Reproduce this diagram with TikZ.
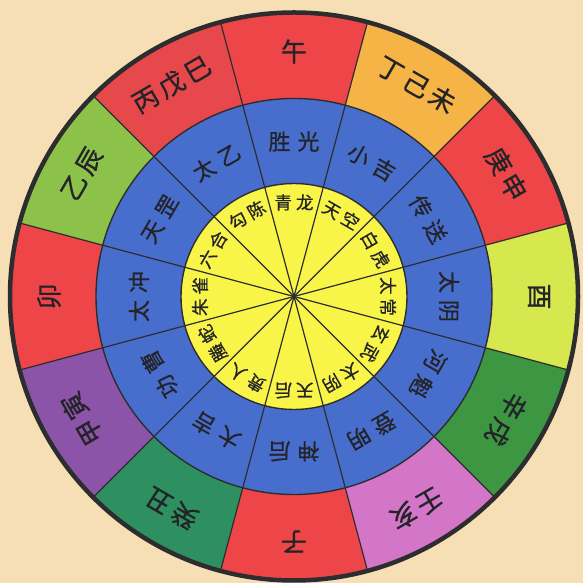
\documentclass[tikz,border=0pt]{standalone}
\usepackage{fontspec}
\newfontfamily\cjk[FakeBold=0.8]{Noto Sans CJK SC}
\usetikzlibrary{calc}
\definecolor{bgc}{RGB}{246,223,180}
\definecolor{cR}{RGB}{238,70,72}
\definecolor{cR2}{RGB}{230,72,76}
\definecolor{cO}{RGB}{247,180,70}
\definecolor{cYG}{RGB}{214,232,78}
\definecolor{cG}{RGB}{60,150,66}
\definecolor{cP}{RGB}{212,118,200}
\definecolor{cT}{RGB}{46,144,96}
\definecolor{cV}{RGB}{140,84,168}
\definecolor{cLG}{RGB}{140,194,74}
\definecolor{cB}{RGB}{72,110,205}
\definecolor{cY}{RGB}{248,245,72}
\definecolor{lnc}{RGB}{45,45,48}
\definecolor{txc}{RGB}{35,35,40}
\newcommand\ogap{\hspace{4pt}}
\newcommand\bgap{\hspace{7pt}}
\newcommand\ygap{\hspace{4pt}}
\begin{document}
\begin{tikzpicture}[x=1pt,y=1pt,
  divline/.style={draw=lnc,line width=1.2pt},
  ringline/.style={draw=lnc,line width=1.4pt},
  rimline/.style={draw=lnc,line width=4.5pt},
  otext/.style={font=\cjk\fontsize{26}{26}\selectfont,text=txc,inner sep=0pt},
  btext/.style={font=\cjk\fontsize{22}{22}\selectfont,text=txc,inner sep=0pt},
  ytext/.style={font=\cjk\fontsize{17.5}{18}\selectfont,text=txc,inner sep=0pt}]
\fill[bgc] (0,0) rectangle (583,583);
\useasboundingbox (0,0) rectangle (583,583);
\coordinate (O) at (294,286.5);
% outer coloured sectors
\foreach \a/\c in {90/cR,60/cO,30/cR,0/cYG,-30/cG,-60/cP,-90/cR,-120/cT,-150/cV,180/cR,150/cLG,120/cR2}{
  \fill[\c] (O) -- ++({\a-15}:284) arc[start angle={\a-15},end angle={\a+15},radius=284] -- cycle;
}
% blue ring and yellow disc
\fill[cB] (O) circle[radius=198];
\fill[cY] (O) circle[radius=113];
% radial dividers
\foreach \k in {0,...,11}{
  \draw[divline] (O) -- ++({15+30*\k}:284);
}
\draw[ringline] (O) circle[radius=198];
\draw[ringline] (O) circle[radius=113];
\draw[rimline] (O) circle[radius=284];
% outer labels
\foreach \a/\t [count=\i] in {90/午,60/丁\ogap 己\ogap 未,30/庚\ogap 申,0/酉,-30/辛\ogap 戌,-60/壬\ogap 亥,-90/子,-120/癸\ogap 丑,-150/甲\ogap 寅,180/卯,150/乙\ogap 辰,120/丙\ogap 戊\ogap 巳}{
  \node[otext,rotate={\a-90}] (o\i) at ($(O)+(\a:245)$) {\t};
}
% blue ring labels
\foreach \a/\t [count=\i] in {90/胜\bgap 光,60/小\bgap 吉,30/传\bgap 送,0/太\bgap 阴,-30/河\bgap 魁,-60/登\bgap 明,-90/神\bgap 后,-120/大\bgap 吉,-150/功\bgap 曹,180/太\bgap 冲,150/天\bgap 罡,120/太\bgap 乙}{
  \node[btext,rotate={\a-90}] (b\i) at ($(O)+(\a:155)$) {\t};
}
% yellow labels
\foreach \a/\t [count=\i] in {90/青\ygap 龙,60/天\ygap 空,30/白\ygap 虎,0/太\ygap 常,-30/玄\ygap 武,-60/太\ygap 阴,-90/天\ygap 后,-120/贵\ygap 人,-150/螣\ygap 蛇,180/朱\ygap 雀,150/六\ygap 合,120/勾\ygap 陈}{
  \node[ytext,rotate={\a-90}] (y\i) at ($(O)+(\a:94)$) {\t};
}
\end{tikzpicture}
\end{document}
